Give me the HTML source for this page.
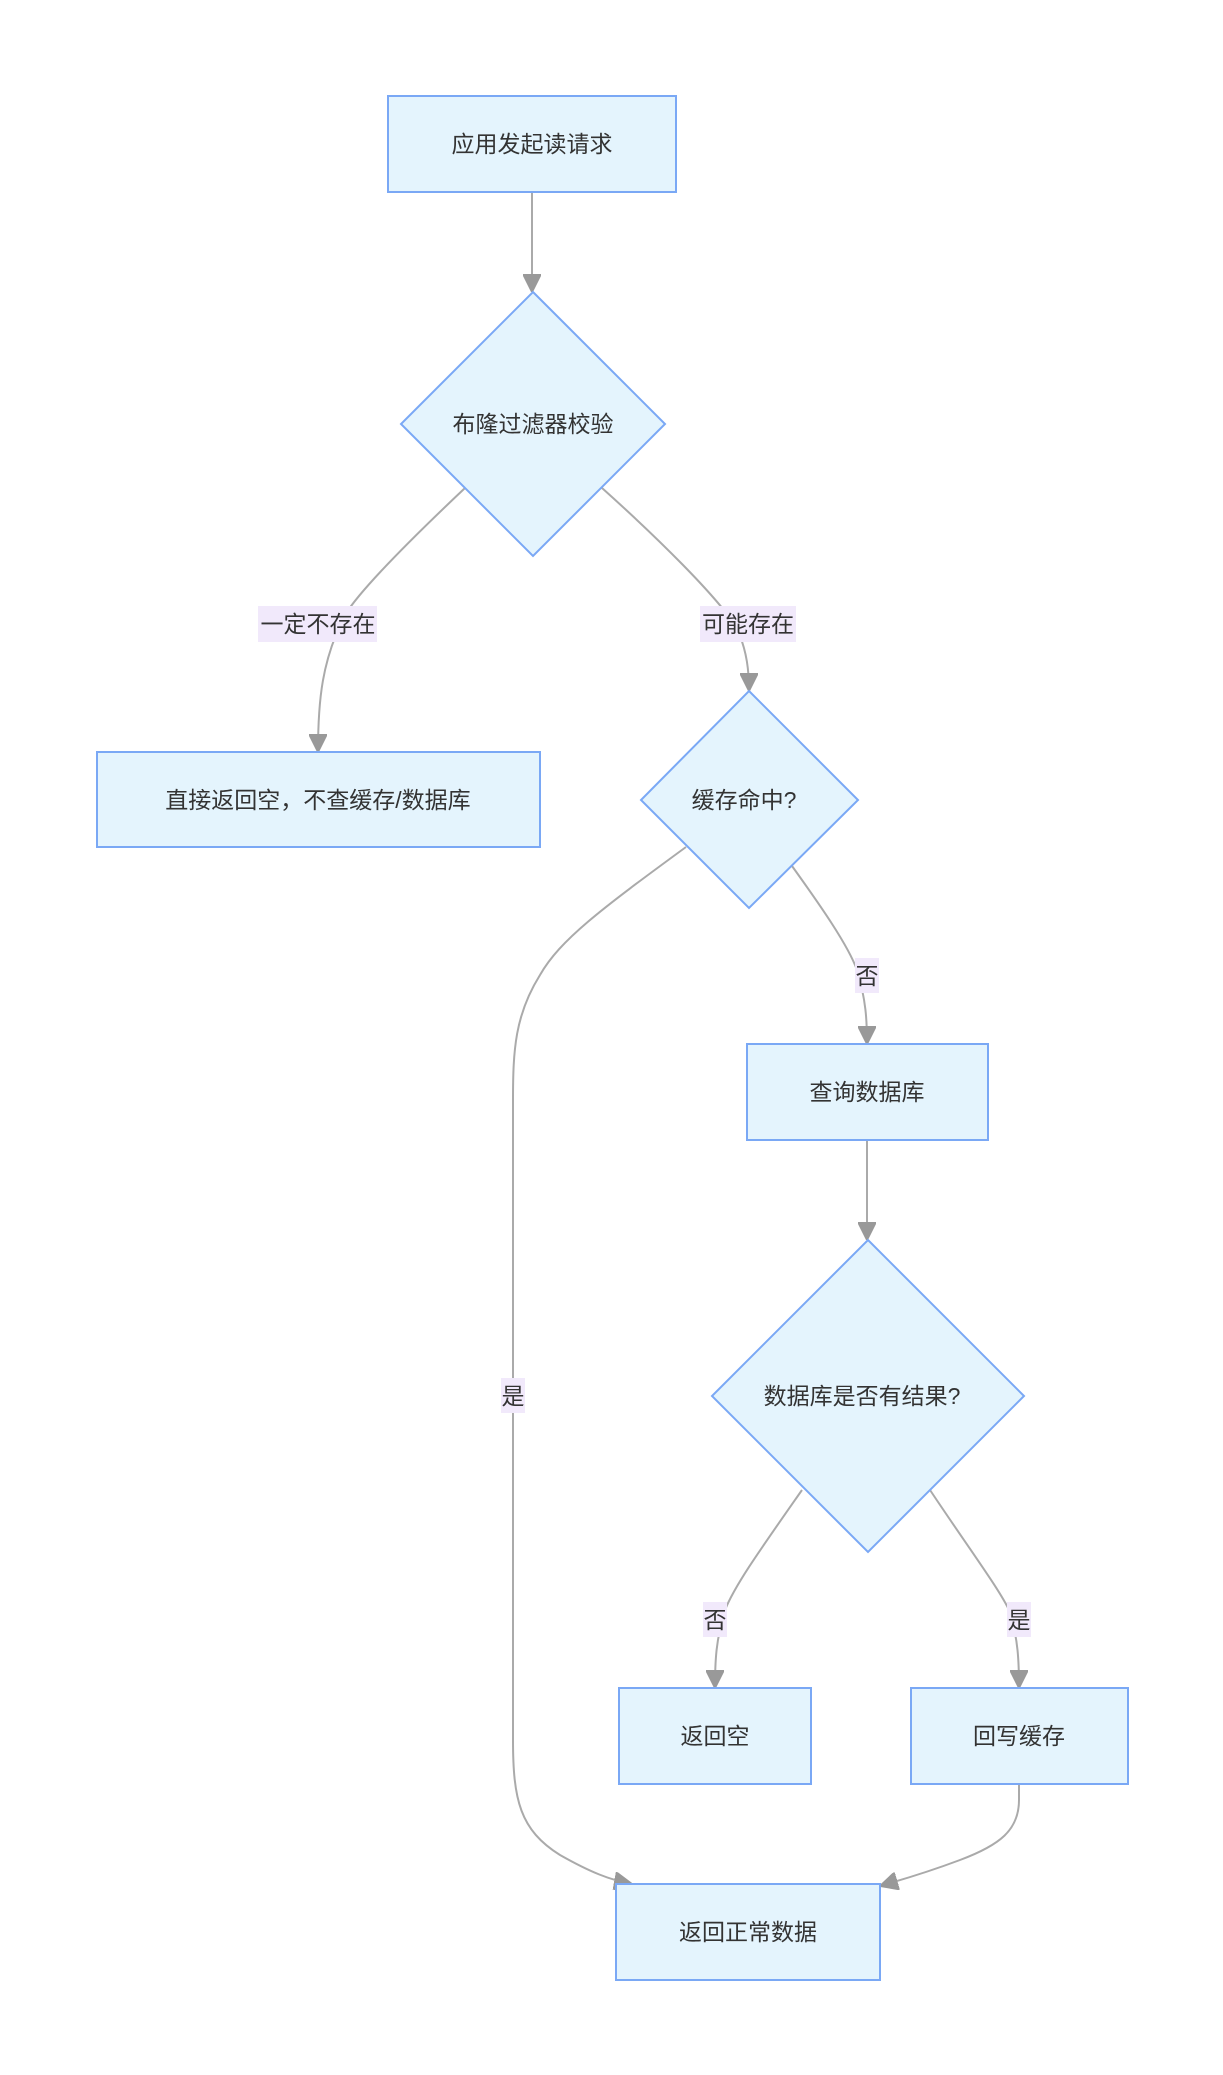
<!DOCTYPE html>
<html><head><meta charset="utf-8"><style>
html,body{margin:0;padding:0;background:#fff;}
svg{display:block;}
text{font-family:"Liberation Sans","Noto Sans CJK SC",sans-serif;font-size:23px;fill:#333;}
.n{fill:#e4f4fd;stroke:#7aa8f5;stroke-width:2;}
.e{fill:none;stroke:#aaa;stroke-width:2;}
.l{fill:#f1e9fb;}
</style></head><body>
<svg width="1223" height="2075" viewBox="0 0 1223 2075" xmlns="http://www.w3.org/2000/svg">
<defs><marker id="a" viewBox="0 0 12 12" refX="11" refY="6" markerWidth="12" markerHeight="12" markerUnits="userSpaceOnUse" orient="auto"><path d="M0,0 L12,6 L0,12 z" fill="#999"/></marker>
<marker id="b" viewBox="0 0 10 10" refX="10" refY="5" markerWidth="18" markerHeight="18" markerUnits="userSpaceOnUse" orient="auto"><path d="M0,0 L10,5 L0,10 z" fill="#999" stroke="#999" stroke-width="1"/></marker></defs>

<!-- edges -->
<path class="e" d="M532,192 L532,292" marker-end="url(#b)"/>
<path class="e" d="M465,488 C410,540 360,590 345,615 C322,660 318,700 318,752" marker-end="url(#b)"/>
<path class="e" d="M602,488 C660,540 715,595 735,625 C748,650 749,675 749,691" marker-end="url(#b)"/>
<path class="e" d="M792,866 C820,905 848,945 857,970 C866,1000 867,1020 867,1044" marker-end="url(#b)"/>
<path class="e" d="M686,847 C600,910 560,940 540,975 C515,1015 513,1050 513,1100 L513,1740 C513,1800 520,1830 560,1855 C590,1872 610,1880 632,1884" marker-end="url(#b)"/>
<path class="e" d="M867,1140 L867,1240" marker-end="url(#b)"/>
<path class="e" d="M802,1490 C760,1550 735,1585 725,1610 C716,1640 715,1660 715,1688" marker-end="url(#b)"/>
<path class="e" d="M930,1490 C970,1550 1000,1590 1010,1612 C1018,1640 1019,1660 1019,1688" marker-end="url(#b)"/>
<path class="e" d="M1019,1784 L1019,1800 C1019,1830 1000,1845 960,1860 C920,1875 900,1880 880,1886" marker-end="url(#b)"/>

<!-- nodes -->
<rect class="n" x="388" y="96" width="288" height="96"/>
<text x="532" y="152" text-anchor="middle">应用发起读请求</text>

<polygon class="n" points="533,292 665,424 533,556 401,424"/>
<text x="533" y="432" text-anchor="middle">布隆过滤器校验</text>

<rect class="l" x="258" y="606" width="119" height="36"/>
<text x="318" y="632" text-anchor="middle">一定不存在</text>
<rect class="l" x="700" y="606" width="96" height="36"/>
<text x="748" y="632" text-anchor="middle">可能存在</text>

<rect class="n" x="97" y="752" width="443" height="95"/>
<text x="318" y="808" text-anchor="middle">直接返回空，不查缓存/数据库</text>

<polygon class="n" points="749,691 858,800 749,908 641,800"/>
<text x="744" y="808" text-anchor="middle">缓存命中?</text>

<rect class="l" x="855" y="958" width="24" height="35"/>
<text x="867" y="984" text-anchor="middle">否</text>

<rect class="n" x="747" y="1044" width="241" height="96"/>
<text x="867" y="1100" text-anchor="middle">查询数据库</text>

<polygon class="n" points="868,1240 1024,1396 868,1552 712,1396"/>
<text x="862" y="1404" text-anchor="middle">数据库是否有结果?</text>

<rect class="l" x="501" y="1378" width="24" height="35"/>
<text x="513" y="1404" text-anchor="middle">是</text>

<rect class="l" x="703" y="1602" width="24" height="35"/>
<text x="715" y="1628" text-anchor="middle">否</text>
<rect class="l" x="1007" y="1602" width="24" height="35"/>
<text x="1019" y="1628" text-anchor="middle">是</text>

<rect class="n" x="619" y="1688" width="192" height="96"/>
<text x="715" y="1744" text-anchor="middle">返回空</text>
<rect class="n" x="911" y="1688" width="217" height="96"/>
<text x="1019" y="1744" text-anchor="middle">回写缓存</text>

<rect class="n" x="616" y="1884" width="264" height="96"/>
<text x="748" y="1940" text-anchor="middle">返回正常数据</text>
</svg>
</body></html>
